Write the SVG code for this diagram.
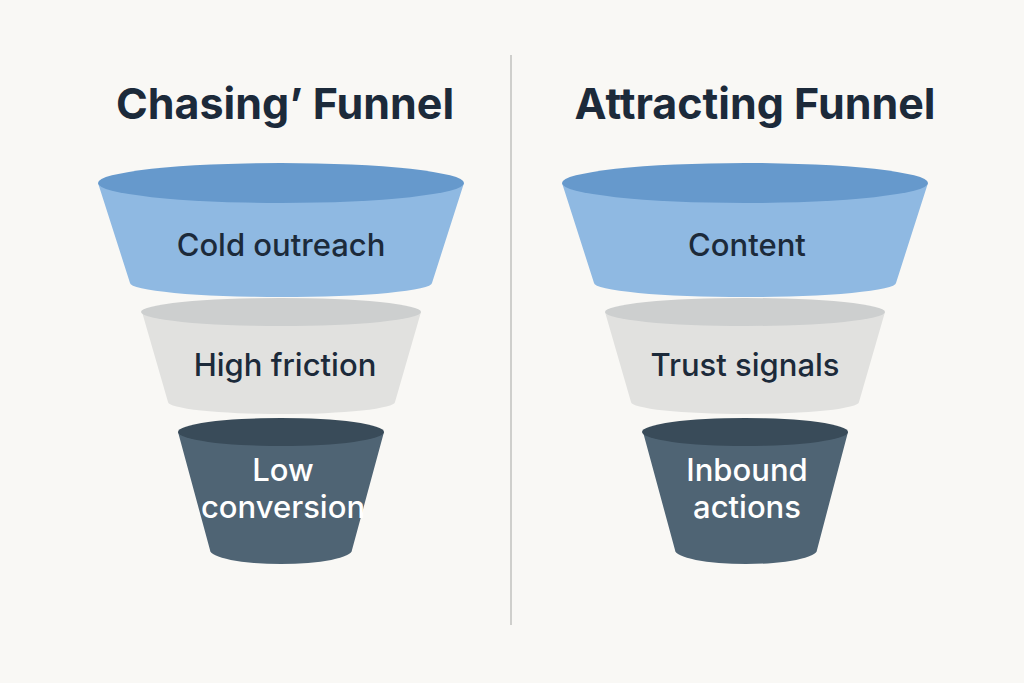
<svg xmlns="http://www.w3.org/2000/svg" width="1024" height="683" viewBox="0 0 1024 683">
<style>
.t{font-family:Inter,"Liberation Sans",sans-serif;font-weight:700;fill:#1c2a3a;text-anchor:middle}
.l{font-family:Inter,"Liberation Sans",sans-serif;font-weight:500;font-size:31px;fill:#1c2a3a;text-anchor:middle}
.w{fill:#fff}
.b1{fill:#8fb9e2}.c1{fill:#6699cc}
.b2{fill:#e1e1df}.c2{fill:#cdcfcf}
.b3{fill:#4f6474}.c3{fill:#394b59}
</style>
<rect width="1024" height="683" fill="#f9f8f5"/>
<text class="t" x="285" y="119" font-size="43">Chasing’ Funnel</text>
<text class="t" x="755" y="119" font-size="43">Attracting Funnel</text>
<g id="connectors"><line x1="511" y1="55" x2="511" y2="625" stroke="#cfcfcc" stroke-width="2"/></g>
<g id="left-top"><path class="b1" d="M98 183 L130 283 A151 14 0 0 0 432 283 L464 183 Z"/><ellipse class="c1" cx="281" cy="183" rx="183" ry="20"/><text class="l" x="281" y="256">Cold outreach</text></g>
<g id="left-mid"><path class="b2" d="M142 312 L168 402 A113 12 0 0 0 395 402 L421 312 Z"/><ellipse class="c2" cx="281" cy="312" rx="140" ry="14"/><text class="l" x="285" y="376">High friction</text></g>
<g id="left-bot"><path class="b3" d="M178 432 L210 550 A71 14 0 0 0 352 550 L384 432 Z"/><ellipse class="c3" cx="281" cy="432" rx="103" ry="14"/><text class="l w" x="283" y="481">Low</text><text class="l w" x="283" y="518">conversion</text></g>
<g id="right-top"><path class="b1" d="M562 183 L594 283 A151 14 0 0 0 896 283 L928 183 Z"/><ellipse class="c1" cx="745" cy="183" rx="183" ry="20"/><text class="l" x="747" y="256">Content</text></g>
<g id="right-mid"><path class="b2" d="M605 312 L631 402 A114 12 0 0 0 859 402 L885 312 Z"/><ellipse class="c2" cx="745" cy="312" rx="140" ry="14"/><text class="l" x="745" y="376">Trust signals</text></g>
<g id="right-bot"><path class="b3" d="M643 432 L675 550 A71 14 0 0 0 817 550 L848 432 Z"/><ellipse class="c3" cx="745" cy="432" rx="103" ry="14"/><text class="l w" x="747" y="481">Inbound</text><text class="l w" x="747" y="518">actions</text></g>
</svg>
